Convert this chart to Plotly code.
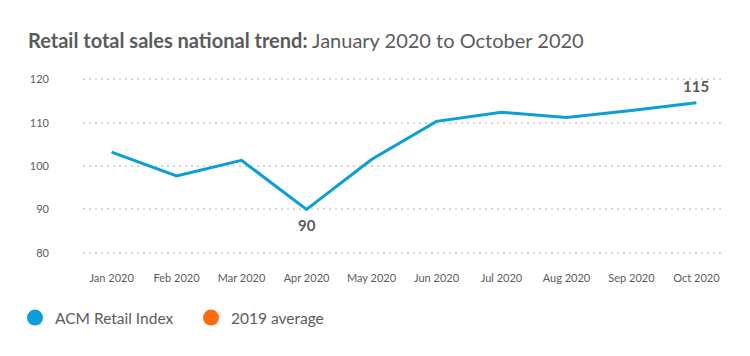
import plotly.graph_objects as go

months = ["Jan 2020", "Feb 2020", "Mar 2020", "Apr 2020", "May 2020",
          "Jun 2020", "Jul 2020", "Aug 2020", "Sep 2020", "Oct 2020"]
acm_index = [103.2, 97.7, 101.3, 90.0, 101.5, 110.3, 112.4, 111.2, 112.8, 114.6]
y_ticks = [80, 90, 100, 110, 120]
series_names = ["ACM Retail Index", "2019 average"]

BLUE = "#0A9FD8"
ORANGE = "#FF6B0F"
TEXT = "#5b5b5b"
FONT = "Lato"

# page body adds an 8px offset; figure is sized to fit the 750x356 window
W, H = 742, 348

fig = go.Figure()
fig.add_trace(go.Scatter(x=months, y=acm_index, mode="lines",
                         line=dict(color=BLUE, width=3), showlegend=False,
                         hoverinfo="x+y"))
for name, col in zip(series_names, [BLUE, ORANGE]):
    fig.add_trace(go.Scatter(x=[None], y=[None], mode="markers", name=name,
                             marker=dict(color=col, size=17, symbol="circle")))

# value labels for min and last
fig.add_annotation(x=months[3], y=acm_index[3], text="<b>90</b>", showarrow=False,
                   yshift=-16, font=dict(family=FONT, size=15, color=TEXT))
fig.add_annotation(x=months[-1], y=acm_index[-1], text="<b>115</b>", showarrow=False,
                   yshift=17, font=dict(family=FONT, size=15, color=TEXT))

fig.update_layout(
    width=W, height=H,
    margin=dict(l=75, r=25, t=67, b=99),
    paper_bgcolor="white", plot_bgcolor="white",
    font=dict(family=FONT, color=TEXT),
    title=dict(text="<b>Retail total sales national trend:</b> January 2020 to October 2020",
               xref="container", x=20/W, xanchor="left",
               yref="container", y=1-33/H, yanchor="middle",
               font=dict(family=FONT, size=20, color=TEXT)),
    legend=dict(orientation="h", xref="container", yref="container",
                x=7/W, y=1-310/H, xanchor="left", yanchor="middle",
                font=dict(family=FONT, size=15.5, color=TEXT),
                itemwidth=30, entrywidth=131, entrywidthmode="pixels"),
    xaxis=dict(type="category", range=[-0.44, 9.44],
               showgrid=False, showline=False, zeroline=False,
               tickfont=dict(family=FONT, size=11, color=TEXT),
               ticks="", ticklabelstandoff=13),
    yaxis=dict(range=[79, 121], tickvals=y_ticks,
               showline=False, zeroline=False,
               showgrid=True, gridcolor="#d6d6d6", gridwidth=1.5, griddash="2px,4px",
               tickfont=dict(family=FONT, size=11, color=TEXT),
               ticks="", ticklabelstandoff=33),
)

fig.write_html("out.html")
